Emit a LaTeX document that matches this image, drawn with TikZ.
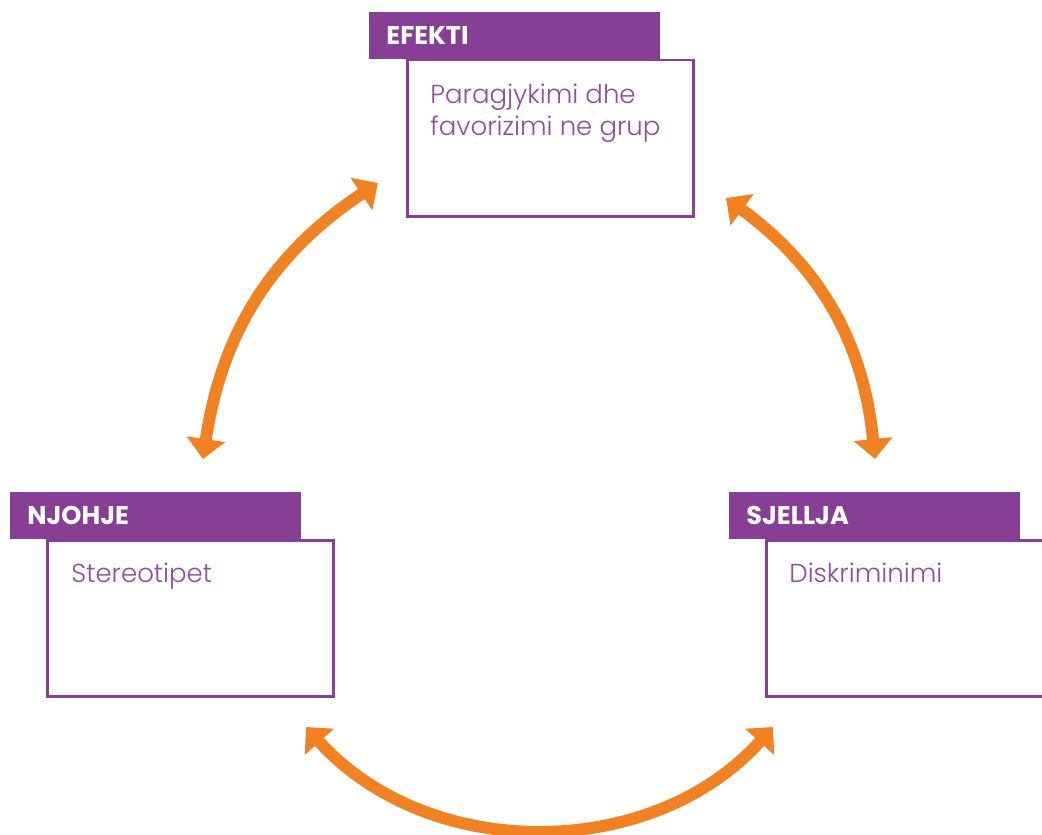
\documentclass[tikz,border=0pt]{standalone}
\usepackage{fontspec}
\setmainfont{Poppins}
\newfontfamily\lightfont{Poppins Light}
\usetikzlibrary{arrows.meta}
\definecolor{vjollce}{RGB}{134,63,148}
\definecolor{portokalli}{RGB}{241,130,35}
\definecolor{tekstvj}{RGB}{143,76,160}
\tikzstyle{header} = [rectangle, anchor=north west, fill=vjollce, minimum height=23.5pt, text width=128.5pt, inner xsep=8.5pt, inner ysep=0pt, text=white, font=\bfseries\fontsize{12.8}{14}\selectfont, align=left]
\tikzstyle{panel} = [rectangle, anchor=north west, draw=vjollce, line width=1.25pt, fill=white, minimum width=143pt, minimum height=78pt, inner sep=0pt]
\tikzstyle{content} = [anchor=north west, inner sep=0pt, text=tekstvj, font=\lightfont\fontsize{13}{16}\selectfont, align=left]
\tikzstyle{cyclearrow} = [line width=6pt, draw=portokalli, {Triangle[length=10pt,width=19pt]}-{Triangle[length=10pt,width=19pt]}]

\begin{document}
\begin{tikzpicture}[x=0.5pt, y=-0.5pt]
    \clip (0,0) rectangle (1042,834);

    % boxes
    \node (efekti_box) [panel] at (406,59) {};
    \node (efekti) [header] at (369,12) {EFEKTI};
    \node (efekti_text) [content] at (430,84) {Paragjykimi dhe\\favorizimi ne grup};

    \node (njohje_box) [panel] at (46,539) {};
    \node (njohje) [header] at (10,492) {NJOHJE};
    \node (njohje_text) [content] at (71,563) {Stereotipet};

    \node (sjellja_box) [panel] at (765,539) {};
    \node (sjellja) [header] at (729,492) {SJELLJA};
    \node (sjellja_text) [content] at (789,563) {Diskriminimi};

    % arrow ends
    \coordinate (njohje_up) at (203,459);
    \coordinate (efekti_left) at (378,183);
    \coordinate (efekti_right) at (726,198);
    \coordinate (sjellja_up) at (875,459);
    \coordinate (njohje_down) at (306,727);
    \coordinate (sjellja_down) at (773,727);

    \draw [cyclearrow] (njohje_up) to[bend left=24] (efekti_left);
    \draw [cyclearrow] (efekti_right) to[bend left=24] (sjellja_up);
    \draw [cyclearrow] (njohje_down) to[bend right=48] (sjellja_down);

\end{tikzpicture}
\end{document}
